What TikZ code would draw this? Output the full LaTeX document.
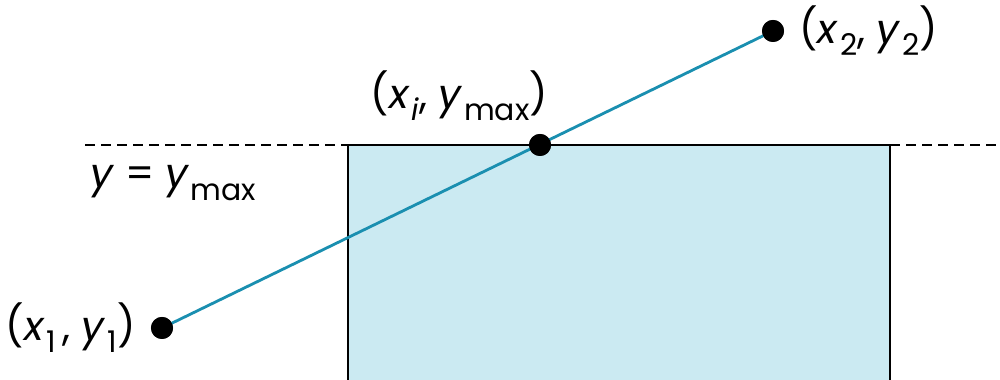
\documentclass[tikz,border=0pt]{standalone}
\usepackage{fontspec}
\setmainfont{Poppins}
\usetikzlibrary{positioning,calc}
\definecolor{cliplinecol}{HTML}{1A8FB0}
\definecolor{clipfill}{HTML}{CBEAF2}
\tikzset{
  vertex/.style={circle,fill=black,inner sep=0pt,minimum size=0.22cm},
  lbl/.style={font=\fontsize{11.5}{14}\selectfont,inner sep=1pt},
  segment/.style={cliplinecol,line width=0.8pt},
  boundary/.style={dashed,dash pattern=on 0.1cm off 0.06cm,line width=0.6pt},
}
\newcommand{\sbs}[1]{\raisebox{-0.55ex}{\fontsize{8.5}{9}\selectfont #1}}
\newcommand{\vx}[2]{\textit{#1}\kern0.5pt\sbs{#2}}
\begin{document}
\begin{tikzpicture}[x=0.01cm,y=-0.01cm]
\useasboundingbox (0,0) rectangle (1000,380);
% clip window
\draw[boundary] (85,145) -- (348,145);
\draw[boundary] (890,145) -- (1000,145);
\draw[fill=clipfill,line width=0.8pt] (348,145) rectangle (890,381);
% end points and intersection
\node[vertex] (p1) at (162,328) {};
\node[vertex] (p2) at (773,31) {};
\node[vertex] (pi) at (540,145) {};
\draw[segment] (p1.center) -- (p2.center);
\node[vertex] at (p1) {};
\node[vertex] at (p2) {};
\node[vertex] at (pi) {};
% labels
\node[lbl,left=3pt of p1] (l1) {(\vx{x}{1}\,, \vx{y}{1})};
\node[lbl,right=3pt of p2] (l2) {(\vx{x}{2}, \vx{y}{2})};
\node[lbl,anchor=south east] (li) at ($(pi)+(12,-20)$) {(\vx{x}{\textit{i}}, \vx{y}{max})};
\node[lbl,anchor=west] (lymax) at (86,183) {\textit{y} = \vx{y}{max}};
\end{tikzpicture}
\end{document}
